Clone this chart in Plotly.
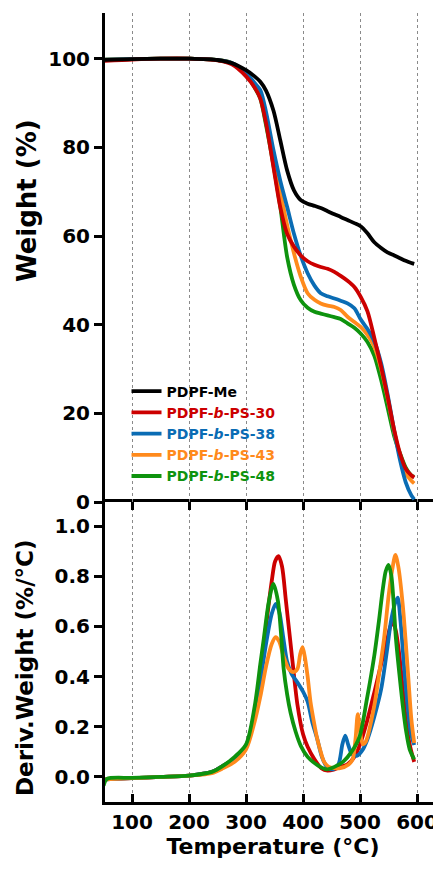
import plotly.graph_objects as go

# ---------------- data ----------------
series_names = ["PDPF-Me", "PDPF-<i>b</i>-PS-30", "PDPF-<i>b</i>-PS-38",
                "PDPF-<i>b</i>-PS-43", "PDPF-<i>b</i>-PS-48"]
series_colors = ["#000000", "#CC0000", "#0A6CB4", "#FF8A1C", "#0E930E"]

# TGA (weight %) on a shared temperature grid
tga_temp = [50, 100, 150, 200, 250, 275, 300, 315, 325, 335, 348, 360, 372, 384, 396,
            408, 420, 431, 443, 455, 466, 478, 490, 501, 513, 525, 537, 548, 560,
            570, 580, 590, 595]
tga_me = [99.7, 99.9, 100, 100, 99.7, 99.0, 97.4, 96.0, 94.8, 92.8, 88.3, 81.6, 74.8,
          70.3, 68.1, 67.3, 66.8, 66.3, 65.6, 64.9, 64.3, 63.6, 62.9, 62.2, 60.6, 58.6,
          57.3, 56.3, 55.6, 55.0, 54.4, 53.9, 53.7]
tga_30 = [99.5, 99.8, 100, 100, 99.6, 98.7, 96.0, 93.5, 91.0, 85.5, 75.6, 66.5, 60.5,
          57.6, 55.6, 54.3, 53.5, 53.0, 52.6, 51.9, 51.0, 49.9, 48.5, 46.3, 43.0, 37.0,
          30.5, 24.0, 16.2, 11.0, 7.5, 6.0, 5.5]
tga_38 = [99.8, 99.9, 100, 100, 99.7, 99.0, 96.8, 94.5, 92.9, 88.0, 79.4, 72.5, 66.6,
          60.5, 55.5, 51.6, 48.8, 47.1, 46.4, 45.9, 45.4, 44.8, 43.7, 41.2, 39.0, 36.2,
          31.3, 24.5, 16.0, 9.5, 4.5, 1.5, 0.6]
tga_43 = [99.8, 99.9, 100, 100, 99.7, 99.0, 96.5, 94.0, 92.0, 86.5, 78.0, 70.0, 62.5,
          56.1, 50.8, 47.1, 45.6, 44.8, 44.3, 44.0, 43.3, 41.8, 40.6, 39.5, 37.7, 35.0,
          30.0, 23.7, 15.8, 10.5, 6.5, 4.8, 4.2]
tga_48 = [99.8, 99.9, 100, 100, 99.7, 99.0, 96.5, 93.5, 91.0, 85.0, 76.0, 66.6, 55.3,
          49.0, 45.5, 43.8, 42.9, 42.5, 42.1, 41.7, 41.3, 40.3, 39.3, 38.0, 36.1, 33.0,
          27.5, 21.5, 14.8, 11.0, 7.8, 6.0, 5.7]

# DTG (deriv. weight %/°C), each series with its own temperature points
dtg_30_t = [50, 100, 150, 200, 240, 260, 280, 300, 315, 325, 335, 345, 351, 357, 363,
            370, 381, 390, 400, 408, 420, 432, 443, 455, 466, 478, 490, 500, 512, 525,
            537, 548, 553, 558, 563, 569, 575, 581, 588, 595]
dtg_30 = [-0.01, -0.005, 0.0, 0.005, 0.02, 0.045, 0.075, 0.125, 0.24, 0.40, 0.60, 0.78,
          0.86, 0.88, 0.84, 0.70, 0.47, 0.29, 0.17, 0.12, 0.07, 0.035, 0.025, 0.03, 0.04,
          0.05, 0.08, 0.13, 0.22, 0.337, 0.45, 0.55, 0.60, 0.615, 0.58, 0.484, 0.35,
          0.217, 0.12, 0.06]
dtg_38_t = [50, 100, 150, 200, 240, 260, 280, 300, 315, 325, 335, 345, 352, 358, 365,
            372, 380, 390, 400, 408, 416, 425, 433, 442, 452, 462, 469, 474, 479, 486,
            495, 505, 513, 525, 537, 547, 554, 561, 566, 571, 578, 584, 589, 595]
dtg_38 = [-0.01, -0.005, 0.0, 0.005, 0.02, 0.045, 0.075, 0.125, 0.24, 0.38, 0.53, 0.65,
          0.69, 0.66, 0.56, 0.46, 0.41, 0.377, 0.34, 0.30, 0.22, 0.15, 0.08, 0.04, 0.03,
          0.05, 0.13, 0.165, 0.13, 0.09, 0.085, 0.11, 0.15, 0.24, 0.35, 0.50, 0.617,
          0.69, 0.715, 0.62, 0.417, 0.27, 0.177, 0.127]
dtg_43_t = [50, 100, 150, 200, 240, 260, 280, 300, 315, 325, 335, 345, 352, 358, 366,
            375, 383, 390, 395, 399, 403, 408, 413, 419, 425, 431, 437, 445, 455, 465,
            480, 487, 492, 496, 500, 505, 510, 525, 534, 542, 550, 556, 562, 567, 575,
            584, 590, 595]
dtg_43 = [-0.01, -0.005, 0.0, 0.005, 0.015, 0.035, 0.06, 0.11, 0.22, 0.32, 0.44, 0.53,
          0.557, 0.54, 0.48, 0.43, 0.418, 0.43, 0.49, 0.517, 0.48, 0.40, 0.30, 0.22,
          0.15, 0.10, 0.06, 0.04, 0.035, 0.035, 0.05, 0.07, 0.15, 0.25, 0.18, 0.13, 0.14,
          0.284, 0.42, 0.55, 0.72, 0.82, 0.885, 0.84, 0.684, 0.417, 0.23, 0.135]
dtg_48_t = [50, 56, 100, 150, 200, 240, 260, 280, 300, 315, 325, 331, 340, 348, 356,
            361, 366, 372, 378, 387, 396, 408, 419, 430, 441, 455, 470, 485, 499, 512,
            525, 533, 540, 545, 550, 555, 563, 569, 575, 581, 587, 595]
dtg_48 = [-0.035, -0.008, -0.004, 0.0, 0.005, 0.02, 0.045, 0.08, 0.13, 0.28, 0.45, 0.55,
          0.70, 0.77, 0.70, 0.58, 0.43, 0.33, 0.257, 0.18, 0.124, 0.08, 0.057, 0.04,
          0.03, 0.04, 0.06, 0.10, 0.16, 0.31, 0.484, 0.62, 0.75, 0.82, 0.845, 0.80, 0.55,
          0.41, 0.284, 0.18, 0.11, 0.07]

x_ticks = [100, 200, 300, 400, 500, 600]
w_ticks = [0, 20, 40, 60, 80, 100]
d_ticks = [0.0, 0.2, 0.4, 0.6, 0.8, 1.0]
d_ticklabels = ["0.0", "0.2", "0.4", "0.6", "0.8", "1.0"]

# ---------------- figure ----------------
FONT = "DejaVu Sans, Arial, sans-serif"
LW = 3.8
fig = go.Figure()

tga_sets = [tga_me, tga_30, tga_38, tga_43, tga_48]
draw_order_top = [4, 3, 2, 1, 0]
for i in draw_order_top:
    nm = series_names[i]
    col = series_colors[i]
    fig.add_trace(go.Scatter(
        x=tga_temp, y=tga_sets[i], mode="lines",
        line=dict(color=col, width=LW, shape="spline", smoothing=0.8),
        name=f'<span style="color:{col}">{nm}</span>',
        legendrank=i + 1, showlegend=True,
        xaxis="x2", yaxis="y2"))

dtg_sets = [(dtg_30_t, dtg_30, 1), (dtg_38_t, dtg_38, 2), (dtg_43_t, dtg_43, 3),
            (dtg_48_t, dtg_48, 4)]
for t, d, i in dtg_sets:
    fig.add_trace(go.Scatter(
        x=t, y=d, mode="lines",
        line=dict(color=series_colors[i], width=LW, shape="spline", smoothing=0.8),
        showlegend=False, xaxis="x", yaxis="y"))

split = 0.3802
tickfont = dict(family=FONT, size=20, color="black", weight="bold")
common_x = dict(range=[52.5, 642], tickvals=x_ticks, showgrid=True,
                gridcolor="#8a8a8a", griddash="dot", gridwidth=1, zeroline=False,
                linecolor="black", linewidth=3, automargin=False)

# note: the page body adds an 8 px offset, so the figure is 8 px smaller each way
fig.update_layout(
    width=433, height=861,
    margin=dict(l=97, r=0, t=5, b=67),
    paper_bgcolor="white", plot_bgcolor="white",
    font=dict(family=FONT, color="black"),
    xaxis=dict(**common_x, domain=[0, 1], anchor="y", showline=True,
               ticks="inside", ticklen=8, tickwidth=3, tickcolor="black",
               mirror="ticks", tickfont=tickfont,
               title=dict(text="Temperature (°C)", standoff=4,
                          font=dict(family=FONT, size=22, weight="bold"))),
    yaxis=dict(domain=[0, split], range=[-0.1, 1.096], tickvals=d_ticks,
               ticktext=d_ticklabels, showgrid=False, zeroline=False,
               showline=True, linecolor="black", linewidth=3, automargin=False,
               ticks="outside", ticklen=8, tickwidth=3, tickcolor="black",
               tickfont=tickfont),
    xaxis2=dict(**common_x, domain=[0, 1], anchor="y2", matches="x",
                showline=False, ticks="", showticklabels=False),
    yaxis2=dict(domain=[split, 1], range=[0, 110.3], tickvals=w_ticks,
                showgrid=False, zeroline=False, automargin=False,
                showline=True, linecolor="black", linewidth=3,
                ticks="outside", ticklen=8, tickwidth=3, tickcolor="black",
                tickfont=tickfont),
    legend=dict(x=0.064, y=0.5404, xanchor="left", yanchor="top",
                bgcolor="rgba(0,0,0,0)", borderwidth=0,
                font=dict(family=FONT, size=14, weight="bold", color="black"),
                tracegroupgap=0, itemwidth=30),
    annotations=[
        dict(text="Weight (%)", textangle=-90, xref="paper", yref="paper",
             x=-0.232, y=0.7617, xanchor="center", yanchor="middle", showarrow=False,
             font=dict(family=FONT, size=26, weight="bold", color="black")),
        dict(text="Deriv.Weight (%/°C)", textangle=-90, xref="paper", yref="paper",
             x=-0.238, y=0.1698, xanchor="center", yanchor="middle", showarrow=False,
             font=dict(family=FONT, size=23, weight="bold", color="black")),
    ],
)

fig.write_html("out.html")
